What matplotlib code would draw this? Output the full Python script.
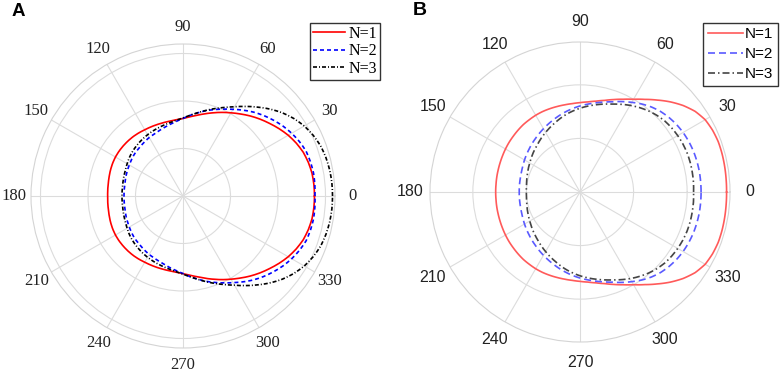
import numpy as np
import matplotlib
matplotlib.use("Agg")
import matplotlib.pyplot as plt

# ---------------- data ----------------
angles_deg = list(range(0, 360, 5))
tick_angles = list(range(0, 360, 30))
tick_labels = [str(a) for a in tick_angles]
series_labels = ["N=1", "N=2", "N=3"]

# Panel A radii (0..355 deg, step 5)
a_n1 = [1.384, 1.383, 1.379, 1.366, 1.347, 1.316, 1.279, 1.235, 1.189, 1.145, 1.100, 1.054,
        1.011, 0.971, 0.932, 0.896, 0.863, 0.837, 0.816, 0.805, 0.800, 0.799, 0.800, 0.802,
        0.805, 0.811, 0.816, 0.819, 0.821, 0.822, 0.821, 0.817, 0.811, 0.804, 0.798, 0.795,
        0.793, 0.795, 0.798, 0.804, 0.811, 0.817, 0.821, 0.822, 0.821, 0.819, 0.816, 0.811,
        0.805, 0.802, 0.800, 0.799, 0.800, 0.805, 0.816, 0.837, 0.863, 0.896, 0.932, 0.971,
        1.011, 1.054, 1.100, 1.145, 1.189, 1.235, 1.279, 1.316, 1.347, 1.366, 1.379, 1.383]
a_n2 = [1.389, 1.393, 1.395, 1.389, 1.379, 1.353, 1.321, 1.284, 1.242, 1.199, 1.153, 1.103,
        1.053, 1.009, 0.968, 0.929, 0.889, 0.852, 0.816, 0.789, 0.768, 0.748, 0.732, 0.720,
        0.711, 0.700, 0.689, 0.681, 0.674, 0.663, 0.653, 0.644, 0.637, 0.629, 0.624, 0.622,
        0.621, 0.622, 0.624, 0.629, 0.637, 0.644, 0.653, 0.663, 0.674, 0.681, 0.689, 0.700,
        0.711, 0.720, 0.732, 0.748, 0.768, 0.789, 0.816, 0.852, 0.889, 0.929, 0.968, 1.009,
        1.053, 1.103, 1.153, 1.199, 1.242, 1.284, 1.321, 1.353, 1.379, 1.389, 1.395, 1.393]
a_n3 = [1.574, 1.573, 1.568, 1.558, 1.542, 1.512, 1.474, 1.423, 1.363, 1.294, 1.221, 1.151,
        1.084, 1.028, 0.979, 0.933, 0.889, 0.853, 0.821, 0.800, 0.784, 0.773, 0.763, 0.754,
        0.745, 0.736, 0.726, 0.716, 0.705, 0.693, 0.679, 0.667, 0.658, 0.651, 0.645, 0.643,
        0.642, 0.643, 0.645, 0.651, 0.658, 0.667, 0.679, 0.693, 0.705, 0.716, 0.726, 0.736,
        0.745, 0.754, 0.763, 0.773, 0.784, 0.800, 0.821, 0.853, 0.889, 0.933, 0.979, 1.028,
        1.084, 1.151, 1.221, 1.294, 1.363, 1.423, 1.474, 1.512, 1.542, 1.558, 1.568, 1.573]

# Panel B radii (0..355 deg, step 5)
b_n1 = [1.368, 1.369, 1.371, 1.373, 1.373, 1.365, 1.349, 1.312, 1.256, 1.190, 1.120, 1.055,
        0.999, 0.955, 0.918, 0.885, 0.861, 0.844, 0.834, 0.828, 0.826, 0.826, 0.827, 0.828,
        0.827, 0.824, 0.822, 0.817, 0.812, 0.808, 0.803, 0.798, 0.794, 0.791, 0.789, 0.787,
        0.787, 0.787, 0.789, 0.791, 0.794, 0.798, 0.803, 0.808, 0.812, 0.817, 0.822, 0.824,
        0.827, 0.828, 0.827, 0.826, 0.826, 0.828, 0.834, 0.844, 0.861, 0.885, 0.918, 0.955,
        0.999, 1.055, 1.120, 1.190, 1.256, 1.312, 1.349, 1.365, 1.373, 1.373, 1.371, 1.369]
b_n2 = [1.130, 1.130, 1.130, 1.128, 1.125, 1.119, 1.111, 1.099, 1.083, 1.063, 1.036, 1.003,
        0.966, 0.931, 0.896, 0.868, 0.845, 0.823, 0.803, 0.782, 0.761, 0.740, 0.719, 0.700,
        0.682, 0.665, 0.649, 0.635, 0.621, 0.609, 0.598, 0.587, 0.579, 0.573, 0.570, 0.568,
        0.567, 0.568, 0.570, 0.573, 0.579, 0.587, 0.598, 0.609, 0.621, 0.635, 0.649, 0.665,
        0.682, 0.700, 0.719, 0.740, 0.761, 0.782, 0.803, 0.823, 0.845, 0.868, 0.896, 0.931,
        0.966, 1.003, 1.036, 1.063, 1.083, 1.099, 1.111, 1.119, 1.125, 1.128, 1.130, 1.130]
b_n3 = [1.060, 1.063, 1.064, 1.065, 1.064, 1.060, 1.053, 1.044, 1.032, 1.013, 0.990, 0.963,
        0.934, 0.903, 0.873, 0.849, 0.826, 0.804, 0.782, 0.759, 0.736, 0.711, 0.686, 0.664,
        0.642, 0.622, 0.602, 0.585, 0.570, 0.555, 0.542, 0.531, 0.521, 0.513, 0.506, 0.502,
        0.501, 0.502, 0.506, 0.513, 0.521, 0.531, 0.542, 0.555, 0.570, 0.585, 0.602, 0.622,
        0.642, 0.664, 0.686, 0.711, 0.736, 0.759, 0.782, 0.804, 0.826, 0.849, 0.873, 0.903,
        0.934, 0.963, 0.990, 1.013, 1.032, 1.044, 1.053, 1.060, 1.064, 1.065, 1.064, 1.063]

a_rticks, a_rmax = [0.5, 1.0, 1.5], 1.6
b_rticks, b_rmax = [0.5, 1.0], 1.4

# ---------------- figure ----------------
W, H = 782, 376
fig = plt.figure(figsize=(W / 100, H / 100), dpi=100)

def closed(vals):
    v = np.asarray(vals, dtype=float)
    return np.append(v, v[0])

theta = np.deg2rad(closed(angles_deg))
theta[-1] = theta[0] + 2 * np.pi

def make_ax(cx, cy, R):
    return fig.add_axes([(cx - R) / W, (H - cy - R) / H, 2 * R / W, 2 * R / H], projection="polar")

def style(ax, rticks, rmax, font, fsize, pad):
    ax.set_ylim(0, rmax)
    ax.set_yticks(rticks)
    ax.set_yticklabels([])
    ax.set_xticks(np.deg2rad(tick_angles))
    ax.set_xticklabels(tick_labels, fontfamily=font, fontsize=fsize, color="#222222")
    ax.tick_params(axis="x", pad=pad)
    ax.grid(True, color="#dcdcdc", linewidth=0.8)
    ax.spines["polar"].set_color("#d4d4d4")
    ax.spines["polar"].set_linewidth(0.8)
    ax.set_facecolor("white")

def polar_line(ax, r, **kw):
    line, = ax.plot(theta, closed(r), **kw)
    # let the polar transform draw each segment along the polar grid instead of a chord
    line.get_path()._interpolation_steps = 6
    return line

lw = 1.2

# Panel A
axA = make_ax(183, 196, 152)
polar_line(axA, a_n1, color="#ff0000", lw=lw, label=series_labels[0])
polar_line(axA, a_n2, color="#0000ff", lw=lw, dashes=(2.4, 1.8), label=series_labels[1])
polar_line(axA, a_n3, color="#000000", lw=lw, dashes=(2.4, 1.2, 0.6, 1.2), label=series_labels[2])
style(axA, a_rticks, a_rmax, "Liberation Serif", 12, 2.0)
legA = axA.legend(loc="upper right", bbox_to_anchor=(380 / W, 1 - 22.5 / H), bbox_transform=fig.transFigure,
                  prop={"family": "Liberation Serif", "size": 11.5}, frameon=True, fancybox=False,
                  framealpha=1, edgecolor="#333333", handlelength=2.0, handletextpad=0.2,
                  borderpad=0.2, labelspacing=0.1, borderaxespad=0)
legA.get_frame().set_linewidth(1.0)

# Panel B
axB = make_ax(580, 192, 150)
polar_line(axB, b_n1, color="#ff5a5a", lw=lw, label=series_labels[0])
polar_line(axB, b_n2, color="#5a5aff", lw=lw, dashes=(4.2, 2.4), label=series_labels[1])
polar_line(axB, b_n3, color="#444444", lw=lw, dashes=(4.2, 1.8, 0.9, 1.8), label=series_labels[2])
style(axB, b_rticks, b_rmax, "Liberation Sans", 11.5, 4)
legB = axB.legend(loc="upper right", bbox_to_anchor=(777.5 / W, 1 - 22.5 / H), bbox_transform=fig.transFigure,
                  prop={"family": "Liberation Sans", "size": 11}, frameon=True, fancybox=False,
                  framealpha=1, edgecolor="#333333", handlelength=2.3, handletextpad=0.1,
                  borderpad=0.3, labelspacing=0.4, borderaxespad=0)
legB.get_frame().set_linewidth(1.0)

fig.text(12 / W, 1 - 3 / H, "A", fontsize=13.5, fontweight="bold", family="Liberation Sans", va="top", ha="left")
fig.text(413 / W, 1 - 2 / H, "B", fontsize=14, fontweight="bold", family="Liberation Sans", va="top", ha="left")

fig.savefig("out.png", dpi=100)
